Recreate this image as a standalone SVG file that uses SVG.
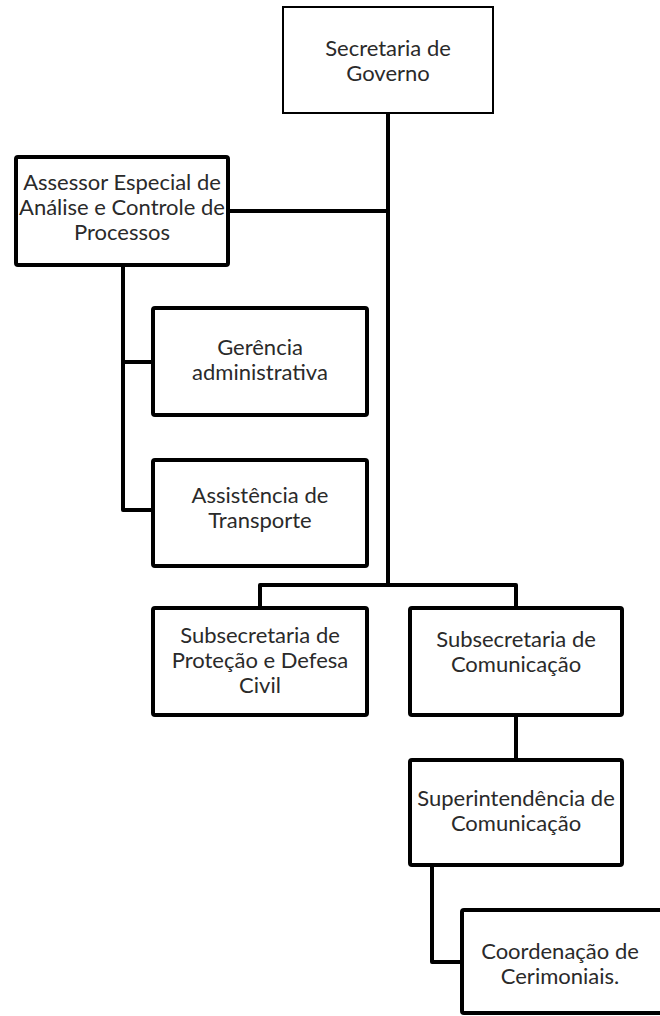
<svg xmlns="http://www.w3.org/2000/svg" width="660" height="1016" viewBox="0 0 660 1016">
<style>
.box{fill:#fff;stroke:#000;stroke-width:4}
.thin{fill:#fff;stroke:#000;stroke-width:2}
.ln{fill:none;stroke:#000;stroke-width:4;stroke-linejoin:round}
text{font-family:Lato,"Open Sans","Liberation Sans",sans-serif;font-size:22px;fill:#2a2a2a;text-anchor:middle}
</style>
<rect width="660" height="1016" fill="#fff"/>
<g id="connectors">
<path class="ln" d="M388,113 V585"/>
<path class="ln" d="M228,211 H388"/>
<path class="ln" d="M123,265 V510 H152"/>
<path class="ln" d="M123,362 H152"/>
<path class="ln" d="M260,608 V585 H516 V608"/>
<path class="ln" d="M516,715 V760"/>
<path class="ln" d="M432,865 V962 H462"/>
</g>
<g id="n1"><rect class="thin" x="283" y="7" width="210" height="106"/><text x="388" y="56">Secretaria de</text><text x="388" y="81">Governo</text></g>
<g id="n2"><rect class="box" x="16" y="157" width="212" height="108" rx="2"/><text x="122" y="190">Assessor Especial de</text><text x="122" y="215">Análise e Controle de</text><text x="122" y="240">Processos</text></g>
<g id="n3"><rect class="box" x="153" y="308" width="214" height="107" rx="2"/><text x="260" y="355">Gerência</text><text x="260" y="380">administrativa</text></g>
<g id="n4"><rect class="box" x="153" y="460" width="214" height="106" rx="2"/><text x="260" y="503">Assistência de</text><text x="260" y="528">Transporte</text></g>
<g id="n5"><rect class="box" x="153" y="608" width="214" height="107" rx="2"/><text x="260" y="643">Subsecretaria de</text><text x="260" y="668">Proteção e Defesa</text><text x="260" y="693">Civil</text></g>
<g id="n6"><rect class="box" x="410" y="608" width="212" height="107" rx="2"/><text x="516" y="647">Subsecretaria de</text><text x="516" y="672">Comunicação</text></g>
<g id="n7"><rect class="box" x="410" y="760" width="212" height="105" rx="2"/><text x="516" y="806">Superintendência de</text><text x="516" y="831">Comunicação</text></g>
<g id="n8"><rect class="box" x="462" y="910" width="202" height="103" rx="2"/><text x="560" y="959">Coordenação de</text><text x="560" y="984">Cerimoniais.</text></g>
</svg>
